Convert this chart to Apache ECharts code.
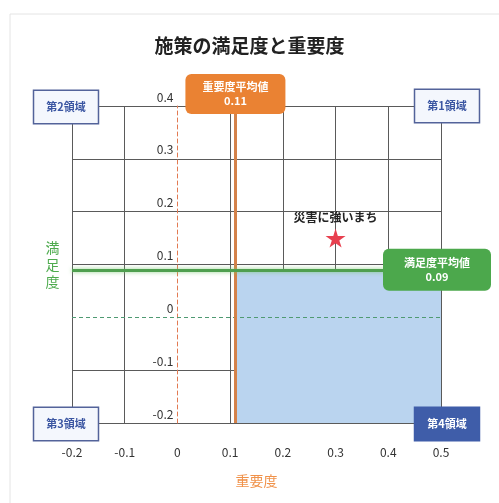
<!DOCTYPE html>
<html>
<head>
<meta charset="utf-8">
<script src="https://cdn.jsdelivr.net/npm/echarts@6/dist/echarts.min.js"></script>
<style>
  html, body { margin: 0; padding: 0; background: #fff; }
  #chart { width: 499px; height: 503px; }
</style>
</head>
<body>
<div id="chart"></div>
<script>
// Axis ranges (importance on x, satisfaction on y)
const xMin = -0.2, xMax = 0.5;
const yMin = -0.2, yMax = 0.4;
const tickStep = 0.1;

// Averages
const importanceAvg = 0.11;
const satisfactionAvg = 0.09;

// Policies
const policyNames = ['災害に強いまち'];
const importance = [0.30];
const satisfaction = [0.15];

// Quadrant captions, placed at the plot corners
const quadrantNames = ['第1領域', '第2領域', '第3領域', '第4領域'];
const quadrantX = [xMax, xMin, xMin, xMax];
const quadrantY = [yMax, yMax, yMin, yMin];

const FONT = '"Noto Sans CJK JP", "Noto Sans", sans-serif';
const gridColor = '#5a5a5a';
const fmt = v => String(+Number(v).toFixed(2));

const W = 499, H = 503;
const grid = { left: 72, right: 58, top: 106, bottom: 80 };
// The value axis sits on x = 0, so shift it in from the grid's left edge
const plotW = W - grid.left - grid.right;
const yAxisShift = (0 - xMin) / (xMax - xMin) * plotW;

// Grid line colours per tick; the zero line is left to the dashed reference line
function splitColors(min, max) {
  const out = [];
  const n = Math.round((max - min) / tickStep);
  for (let i = 0; i <= n; i++) {
    const v = +(min + i * tickStep).toFixed(2);
    out.push(v === 0 ? 'rgba(0,0,0,0)' : gridColor);
  }
  return out;
}

const starPath = 'path://M50,0 L61,35 L98,35 L68,57 L79,91 L50,70 L21,91 L32,57 L2,35 L39,35 Z';

const quadrantStyles = [
  { bg: '#f4f7fd', fg: '#3b56a2', border: '#53639a' },
  { bg: '#f4f7fd', fg: '#3b56a2', border: '#53639a' },
  { bg: '#f4f7fd', fg: '#3b56a2', border: '#53639a' },
  { bg: '#3f5da9', fg: '#ffffff', border: '#3f5da9' }
];
const quadrantOffsets = [[6, 0], [-6, 1], [-6, 1], [6, 1]];

const chart = echarts.init(document.getElementById('chart'));

chart.setOption({
  animation: false,
  textStyle: { fontFamily: FONT },
  graphic: [{
    type: 'rect',
    shape: { x: 10, y: 14, width: 540, height: 540 },
    style: { fill: 'none', stroke: '#e4e4e4', lineWidth: 1 },
    silent: true
  }],
  title: {
    text: '施策の満足度と重要度',
    left: 'center',
    top: 31,
    textStyle: { fontSize: 19, fontWeight: 'bold', color: '#222', fontFamily: FONT }
  },
  grid: Object.assign({ outerBoundsMode: 'none', containLabel: false }, grid),
  xAxis: {
    type: 'value',
    min: xMin, max: xMax, interval: tickStep,
    name: '重要度',
    nameLocation: 'middle',
    nameGap: 51,
    nameTextStyle: { color: '#f0924a', fontSize: 14, fontFamily: FONT },
    axisLine: { show: false, onZero: false },
    axisTick: { show: false },
    axisLabel: { color: '#333', fontSize: 12, margin: 23, formatter: fmt },
    splitLine: { show: true, lineStyle: { color: splitColors(xMin, xMax), width: 1 } }
  },
  yAxis: {
    type: 'value',
    min: yMin, max: yMax, interval: tickStep,
    offset: -yAxisShift,
    name: '満\n足\n度',
    nameLocation: 'middle',
    nameRotate: 0,
    nameGap: 118,
    nameTextStyle: { color: '#4eab4e', fontSize: 14, lineHeight: 17, fontFamily: FONT },
    axisLine: { show: true, onZero: false, lineStyle: { color: '#e27a52', type: [4, 3], width: 1 } },
    axisTick: { show: false },
    axisLabel: { color: '#333', fontSize: 12, margin: 4, verticalAlign: 'bottom', padding: [0, 0, 3, 0], formatter: fmt },
    splitLine: { show: true, lineStyle: { color: splitColors(yMin, yMax), width: 1 } }
  },
  series: [
    {
      // Low importance / low satisfaction priority zone
      type: 'line',
      data: [],
      z: -1,
      silent: true,
      markArea: {
        silent: true,
        itemStyle: { color: '#bad4ef', opacity: 1 },
        data: [[{ xAxis: importanceAvg, yAxis: yMin }, { xAxis: xMax, yAxis: satisfactionAvg }]]
      }
    },
    {
      // Reference lines: zero line and the two averages
      type: 'line',
      data: [],
      silent: true,
      markLine: {
        silent: true,
        symbol: 'none',
        label: { show: false },
        data: [
          { yAxis: 0, lineStyle: { color: '#4f9a72', type: [4, 3], width: 1, opacity: 1 } },
          { xAxis: importanceAvg, lineStyle: { color: '#d4824a', type: 'solid', width: 3, opacity: 1 } },
          { yAxis: satisfactionAvg, lineStyle: { color: '#4f9f4f', type: 'solid', width: 3, opacity: 1,
              shadowColor: 'rgba(120,200,110,0.8)', shadowBlur: 4 } }
        ]
      }
    },
    {
      name: '施策',
      type: 'scatter',
      symbol: starPath,
      symbolSize: 20,
      symbolKeepAspect: true,
      itemStyle: { color: '#e8404f', opacity: 1 },
      label: {
        show: true,
        position: 'top',
        distance: 5,
        formatter: p => p.data[2],
        fontSize: 12,
        fontWeight: 'bold',
        color: '#222',
        fontFamily: FONT
      },
      data: policyNames.map((n, i) => [importance[i], satisfaction[i], n])
    },
    {
      // Average value badges
      type: 'scatter',
      symbolSize: 0,
      silent: true,
      z: 5,
      itemStyle: { opacity: 1 },
      data: [
        {
          value: [importanceAvg, yMax],
          label: {
            formatter: '重要度平均値\n' + fmt(importanceAvg),
            backgroundColor: '#ea8233',
            padding: [6, 17],
            offset: [0, -12]
          }
        },
        {
          value: [xMax, satisfactionAvg],
          label: {
            formatter: '満足度平均値\n' + fmt(satisfactionAvg),
            backgroundColor: '#4ca84c',
            padding: [7, 21],
            offset: [-4, 0]
          }
        }
      ],
      label: {
        show: true,
        position: 'inside',
        color: '#fff',
        opacity: 1,
        fontSize: 11,
        fontWeight: 'bold',
        lineHeight: 14,
        align: 'center',
        borderRadius: 6,
        fontFamily: FONT
      }
    },
    {
      // Quadrant captions
      type: 'scatter',
      symbolSize: 0,
      silent: true,
      z: 5,
      itemStyle: { opacity: 1 },
      data: quadrantNames.map((n, i) => ({
        value: [quadrantX[i], quadrantY[i]],
        label: {
          formatter: n,
          color: quadrantStyles[i].fg,
          backgroundColor: quadrantStyles[i].bg,
          borderColor: quadrantStyles[i].border,
          offset: quadrantOffsets[i]
        }
      })),
      label: {
        show: true,
        position: 'inside',
        opacity: 1,
        fontSize: 11,
        fontWeight: 'bold',
        lineHeight: 14,
        padding: [9, 12],
        borderWidth: 1.5,
        fontFamily: FONT
      }
    }
  ]
});
</script>
</body>
</html>
